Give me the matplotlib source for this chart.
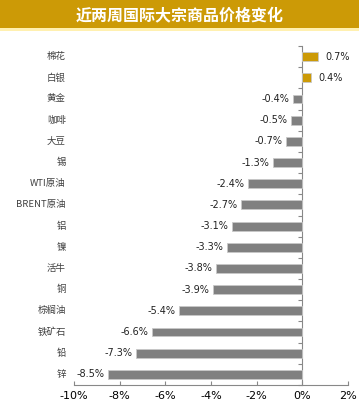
import numpy as np
import matplotlib.pyplot as plt
from matplotlib.patches import Rectangle

plt.rcParams['font.family'] = ['Noto Sans CJK SC', 'DejaVu Sans']

# 近两周国际大宗商品价格变化 (%)
categories = ['棉花', '白银', '黄金', '咖啡', '大豆', '锡', 'WTI原油', 'BRENT原油',
              '铝', '镍', '活牛', '铜', '棕榈油', '铁矿石', '铅', '锌']
changes = [0.7, 0.4, -0.4, -0.5, -0.7, -1.3, -2.4, -2.7,
           -3.1, -3.3, -3.8, -3.9, -5.4, -6.6, -7.3, -8.5]
xticks = [-10, -8, -6, -4, -2, 0, 2]

GOLD = '#CC9A06'
GRAY = '#808080'

fig = plt.figure(figsize=(3.59, 4.08), dpi=100)

# 标题栏
fig.patches.append(Rectangle((0, 1 - 28 / 408), 1, 28 / 408, transform=fig.transFigure,
                             facecolor=GOLD, edgecolor='none'))
fig.patches.append(Rectangle((0, 1 - 31 / 408), 1, 3 / 408, transform=fig.transFigure,
                             facecolor='#FFF0B0', edgecolor='none'))
fig.text(0.5, 1 - 15 / 408, '近两周国际大宗商品价格变化', color='white', fontsize=11.5,
         fontweight='bold', ha='center', va='center')

ax = fig.add_axes([74 / 359, 1 - 385 / 408, 274 / 359, 339 / 408])

n = len(categories)
y = np.arange(n)
colors = [GOLD if v > 0 else GRAY for v in changes]
ax.barh(y, changes, height=0.42, color=colors, edgecolor='#C8C8C8', linewidth=0.6, zorder=3)

for yi, v in zip(y, changes):
    if v > 0:
        ax.text(v + 0.3, yi, f'{v:.1f}%', ha='left', va='center', fontsize=7,
                color='#222222', family='DejaVu Sans')
    else:
        ax.text(v - 0.15, yi, f'{v:.1f}%', ha='right', va='center', fontsize=7,
                color='#222222', family='DejaVu Sans')
    ax.text(-0.03, yi, categories[yi], transform=ax.get_yaxis_transform(),
            ha='right', va='center', fontsize=6.8, color='#404040')

ax.set_xlim(-10, 2)
ax.set_ylim(n - 0.5, -0.5)
ax.set_xticks(xticks)
ax.set_xticklabels([f'{t}%' for t in xticks], family='DejaVu Sans', fontsize=8)
ax.set_yticks(np.arange(-0.5, n, 1))
ax.set_yticklabels([])

for s in ['top', 'right']:
    ax.spines[s].set_visible(False)
ax.spines['left'].set_position(('data', 0))
for s in ['left', 'bottom']:
    ax.spines[s].set_color('#888888')
    ax.spines[s].set_linewidth(0.8)
ax.tick_params(axis='x', direction='in', length=3, color='#888888', pad=4)
ax.tick_params(axis='y', direction='out', length=3, color='#888888')

fig.savefig('out.png', dpi=100)
